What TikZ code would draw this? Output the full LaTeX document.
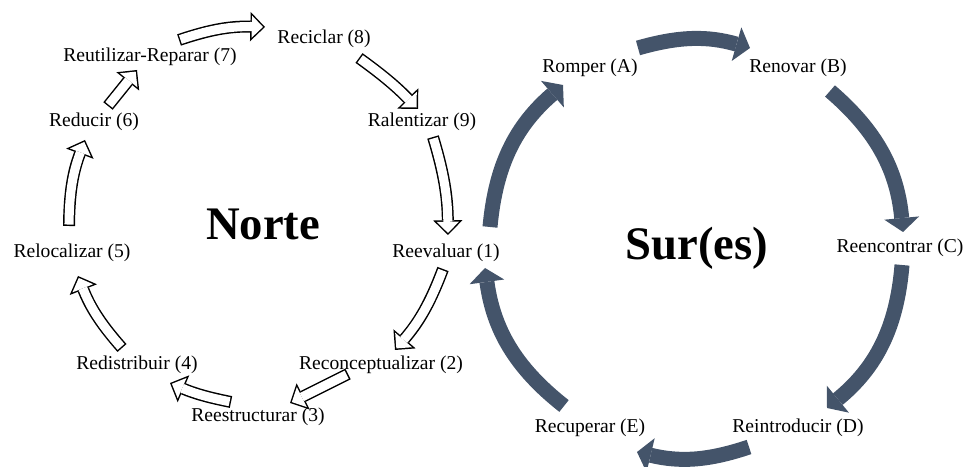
\documentclass[tikz,border=0pt]{standalone}
\usepackage{fontspec}
\setmainfont{Liberation Serif}
\usetikzlibrary{arrows.meta,calc}
\definecolor{surblue}{HTML}{44546A}
\tikzset{
  lbl/.style={font=\fontsize{14.7}{17}\selectfont, inner sep=1pt},
  ttl/.style={font=\fontsize{35}{40}\selectfont\bfseries, inner sep=1pt},
  wout/.style={draw=black, line width=9pt, -{Triangle[length=11pt,width=22pt,line width=0pt]}},
  win/.style={draw=white, line width=6.8pt, shorten <=1.1pt, shorten >=1.56pt, -{Triangle[length=8.34pt,width=16.7pt,line width=0pt]}},
  darr/.style={draw=surblue, line width=11.25pt, -{Triangle[length=10.5pt,width=26.25pt,line width=0pt]}}
}
% hollow arrow: black outline, white inside
\newcommand{\hollow}[3]{\draw[wout] #1 to[bend left=#3] #2; \draw[win] #1 to[bend left=#3] #2;}
\begin{document}
\begin{tikzpicture}[x=0.75pt,y=0.75pt]
\useasboundingbox (0,0) rectangle (967,467);
% Norte
\node[lbl] (n1) at (446,214) {Reevaluar (1)};
\node[lbl] (n2) at (381,102) {Reconceptualizar (2)};
\node[lbl] (n3) at (258,50) {Reestructurar (3)};
\node[lbl] (n4) at (137,102) {Redistribuir (4)};
\node[lbl] (n5) at (72,214) {Relocalizar (5)};
\node[lbl] (n6) at (94,345) {Reducir (6)};
\node[lbl] (n7) at (150,410) {Reutilizar-Reparar (7)};
\node[lbl] (n8) at (324,428) {Reciclar (8)};
\node[lbl] (n9) at (422,345) {Ralentizar (9)};
\node[ttl] (norte) at (263,243) {Norte};
% Sur(es)
\node[lbl] (nA) at (590,399) {Romper (A)};
\node[lbl] (nB) at (798,399) {Renovar (B)};
\node[lbl] (nC) at (900,219) {Reencontrar (C)};
\node[lbl] (nD) at (798,39) {Reintroducir (D)};
\node[lbl] (nE) at (590,39) {Recuperar (E)};
\node[ttl] (sur) at (697,219) {Sur(es)};
% white cycle
\hollow{($(n7)+(29,17)$)}{($(n8)+(-59,12)$)}{10}
\hollow{($(n8)+(35,-19)$)}{($(n9)+(-4,13)$)}{5}
\hollow{($(n9)+(11,-15)$)}{($(n1)+(2,18)$)}{8}
\hollow{($(n1)+(-3,-16)$)}{($(n2)+(14,15)$)}{10}
\hollow{($(n2)+(-33,-9)$)}{($(n3)+(32,14)$)}{0}
\hollow{($(n3)+(-27,15)$)}{($(n4)+(33,-18)$)}{6}
\hollow{($(n4)+(-15,17)$)}{($(n5)+(6,-23)$)}{10}
\hollow{($(n5)+(-3,27)$)}{($(n6)+(-9,-18)$)}{10}
\hollow{($(n6)+(14,16)$)}{($(n7)+(-13,-13)$)}{0}
% dark cycle
\draw[darr] ($(n1)+(44,26)$) to[bend left=22] ($(nA)+(-27,-17)$);
\draw[darr] ($(nA)+(48,20)$) to[bend left=16] ($(nB)+(-48,20)$);
\draw[darr] ($(nB)+(32,-23)$) to[bend left=22] ($(nC)+(3,16)$);
\draw[darr] ($(nC)+(2,-17)$) to[bend left=23] ($(nD)+(29,20)$);
\draw[darr] ($(nD)+(-49,-19)$) to[bend left=16] ($(nE)+(47,-24)$);
\draw[darr] ($(nE)+(-26,22)$) to[bend left=22] ($(n1)+(39,-15)$);
\end{tikzpicture}
\end{document}
